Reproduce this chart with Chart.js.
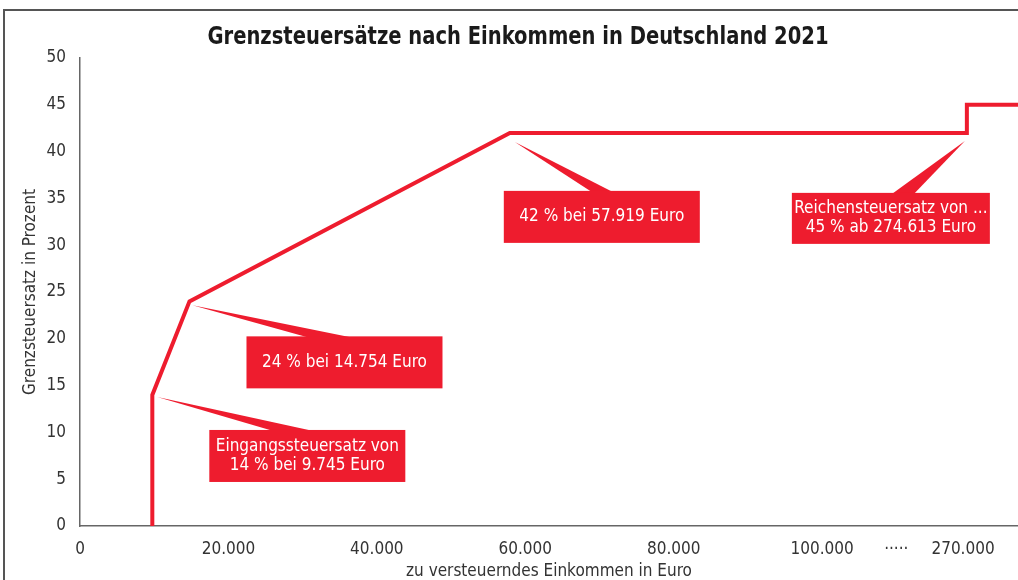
<!DOCTYPE html>
<html><head><meta charset="utf-8">
<script src="https://cdn.jsdelivr.net/npm/chart.js@4.4.1/dist/chart.umd.min.js"></script>
<style>
html,body{margin:0;padding:0;background:#fff;overflow:hidden}
#wrap{position:relative;width:1018px;height:580px}
#frame{position:absolute;left:3px;top:9px;width:1100px;height:700px;border-left:2px solid #555;border-top:2px solid #555}
canvas{position:absolute;left:0;top:0}
</style></head><body>
<div id="wrap"><div id="frame"></div><canvas id="c" width="1018" height="580"></canvas></div>
<script>
const FONT='"Liberation Sans Narrow","DejaVu Sans Condensed","Open Sans",sans-serif';
const RED='#ee1c2e';

// data
const incomes=[9745,9745,14754,57919,274613,274613,340000];
const rates=[0,14,24,42,42,45,45];
const xTickValues=[0,20000,40000,60000,80000,100000,270000];
const yMax=50,yStep=5;
const title='Grenzsteuersätze nach Einkommen in Deutschland 2021';
const xTitle='zu versteuerndes Einkommen in Euro';
const yTitle='Grenzsteuersatz in Prozent';
const calloutPoint=[1,2,3,4];
const calloutText=[
  ['Eingangssteuersatz von','14 % bei 9.745 Euro'],
  ['24 % bei 14.754 Euro'],
  ['42 % bei 57.919 Euro'],
  ['Reichensteuersatz von ...','45 % ab 274.613 Euro']
];

// layout of the callouts (offsets from the point, pixels)
const calloutBox=[
  {dx:57,dy:35,w:196,h:52,tx:5,ty:2,b0:64,b1:104},
  {dx:57,dy:35,w:196,h:52,tx:3,ty:4,b0:61,b1:104},
  {dx:-6,dy:58,w:196,h:52,tx:5,ty:9,b0:88,b1:109},
  {dx:-175,dy:60,w:198,h:51,tx:-2,ty:8,b0:100,b1:122}
];

// axis break after 100.000
const BREAK=100000,SQUEEZE=8.95,DOTS=110000;
const toAxis=v=>v<=BREAK?v:BREAK+(v-BREAK)/SQUEEZE;
const fmt=v=>String(v).replace(/\B(?=(\d{3})+(?!\d))/g,'.');
const tickLabels=new Map(xTickValues.map(v=>[toAxis(v),fmt(v)]));
tickLabels.set(DOTS,'·····');

const callouts={
  id:'callouts',
  afterDatasetsDraw(chart){
    const {ctx}=chart,meta=chart.getDatasetMeta(0);
    ctx.save();
    calloutPoint.forEach((idx,k)=>{
      const p=meta.data[idx],b=calloutBox[k];
      const bx=p.x+b.dx,by=p.y+b.dy;
      ctx.fillStyle=RED;
      ctx.beginPath();
      ctx.moveTo(p.x+b.tx,p.y+b.ty);
      ctx.lineTo(bx+b.b1,by+1);
      ctx.lineTo(bx+b.b0,by+1);
      ctx.closePath();ctx.fill();
      ctx.fillRect(bx,by,b.w,b.h);
      ctx.fillStyle='#fff';
      ctx.font='17px '+FONT;
      ctx.textAlign='center';ctx.textBaseline='middle';
      const lines=calloutText[k],lh=19;
      lines.forEach((t,j)=>ctx.fillText(t,bx+b.w/2,by+b.h/2+(j-(lines.length-1)/2)*lh));
    });
    // title, slightly condensed
    ctx.font='bold 24px '+FONT;
    ctx.fillStyle='#1a1a1a';
    ctx.textAlign='center';ctx.textBaseline='middle';
    ctx.translate(518,38);ctx.scale(0.905,1);
    ctx.fillText(title,0,0);
    ctx.restore();
  }
};

new Chart(document.getElementById('c'),{
  type:'line',
  data:{datasets:[{
    data:incomes.map((v,i)=>({x:toAxis(v),y:rates[i]})),
    borderColor:RED,borderWidth:4,pointRadius:0,tension:0,fill:false,
    borderJoinStyle:'miter'
  }]},
  options:{
    responsive:false,animation:false,
    layout:{padding:{top:58,right:0,left:0,bottom:0}},
    plugins:{legend:{display:false},tooltip:{enabled:false}},
    scales:{
      x:{
        type:'linear',min:0,max:126400,
        afterBuildTicks:s=>{s.ticks=[...tickLabels.keys()].sort((a,b)=>a-b).map(v=>({value:v}));},
        afterFit:s=>{s.height=54;},
        ticks:{callback:v=>tickLabels.get(v),color:'#333',font:{family:FONT,size:17},padding:13,maxRotation:0,autoSkip:false},
        grid:{display:false,drawTicks:false},
        border:{display:true,color:'#666',width:1.5},
        title:{display:true,text:xTitle,color:'#333',font:{family:FONT,size:17,lineHeight:1},padding:{top:0,bottom:0}}
      },
      y:{
        min:0,max:yMax,
        afterFit:s=>{s.width=80;},
        ticks:{stepSize:yStep,color:'#333',font:{family:FONT,size:17},padding:14},
        grid:{display:false,drawTicks:false},
        border:{display:true,color:'#666',width:1.5},
        title:{display:true,text:yTitle,color:'#333',font:{family:FONT,size:17},padding:{top:20,bottom:0}}
      }
    }
  },
  plugins:[callouts]
});
</script>
</body></html>
